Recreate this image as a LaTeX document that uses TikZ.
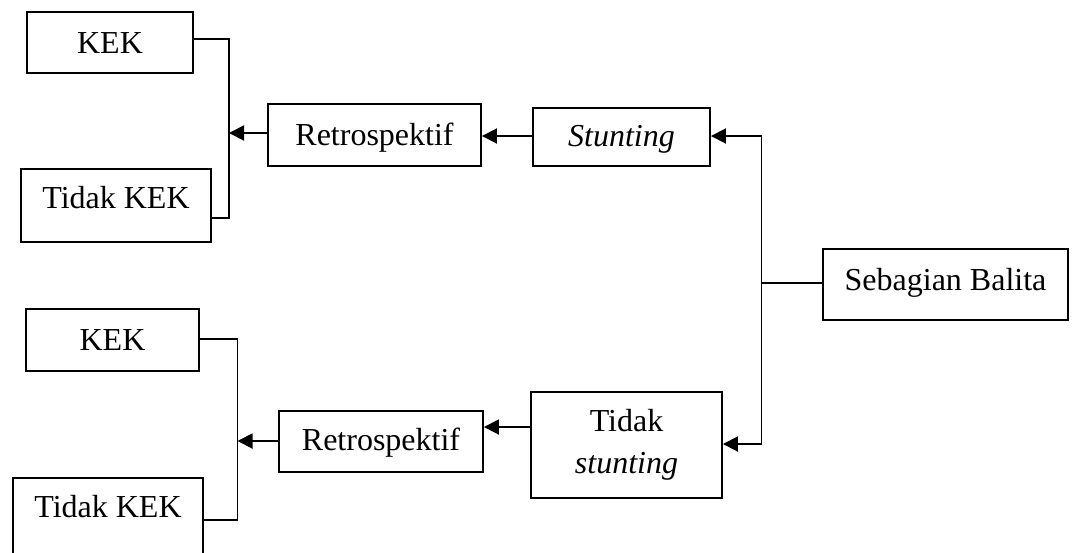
\documentclass[tikz,border=0pt]{standalone}
\usepackage{fontspec}
\setmainfont{Liberation Serif}
\usetikzlibrary{arrows.meta}
\begin{document}
\begin{tikzpicture}[x=1pt,y=-1pt,
  box/.style={draw, line width=1.9pt, inner sep=0pt, anchor=north,
    font=\fontsize{32}{42}\selectfont},
  link/.style={line width=1.9pt, line join=miter},
  arr/.style={link, -{Triangle[length=15pt,width=15pt]}}]
\useasboundingbox (0,0) rectangle (1073,552);
\clip (0,0) rectangle (1073,552);

% upper branch
\node[box, minimum width=166pt, text height=42pt, text depth=19pt] (kek1) at (110,11) {KEK};
\node[box, minimum width=190pt, text height=40pt, text depth=33pt] (tk1) at (116,168) {Tidak KEK};
\node[box, minimum width=213pt, text height=42pt, text depth=20pt] (retro1) at (374.5,103) {Retrospektif};
\node[box, minimum width=177pt, text height=39pt, text depth=19pt] (stunt) at (621.5,107) {\itshape Stunting};

% root
\node[box, minimum width=245pt, text height=42pt, text depth=29pt] (root) at (945.5,248) {Sebagian Balita};

% lower branch
\node[box, minimum width=173pt, text height=42pt, text depth=20pt] (kek2) at (112.5,308) {KEK};
\node[box, minimum width=190pt, text height=40pt, text depth=70pt] (tk2) at (108,477) {Tidak KEK};
\node[box, minimum width=204pt, text height=40pt, text depth=21pt] (retro2) at (381,410) {Retrospektif};
\node[box, minimum width=191pt, minimum height=106pt, align=center, anchor=center] (tstunt) at (626.5,445) {Tidak\\\itshape stunting};

% junction points
\coordinate (j1t) at (229,39);
\coordinate (j1m) at (229,133);
\coordinate (j1b) at (229,218);
\coordinate (j2t) at (237.5,339);
\coordinate (j2m) at (237.5,441);
\coordinate (j2b) at (237.5,520);
\coordinate (sp_t) at (761.5,136);
\coordinate (sp_m) at (761.5,283);
\coordinate (sp_b) at (761.5,444);

% bracket joining the two KEK outcomes of each branch
\draw[link] (kek1.east |- j1t) -- (j1t) -- (j1b) -- (tk1.east |- j1b);
\draw[link] (kek2.east |- j2t) -- (j2t) -- (j2b) -- (tk2.east |- j2b);

% arrows
\draw[arr] (retro1.west |- j1m) -- (j1m);
\draw[arr] (retro2.west |- j2m) -- (j2m);
\draw[arr] (stunt.west |- 0,136) -- (retro1.east |- 0,136);
\draw[arr] (tstunt.west |- 0,427) -- (retro2.east |- 0,427);

% spine from the root
\draw[link] (root.west |- sp_m) -- (sp_m);
\draw[link] (sp_t) -- (sp_b);
\draw[arr] (sp_t) -- (stunt.east |- sp_t);
\draw[arr] (sp_b) -- (tstunt.east |- sp_b);
\end{tikzpicture}
\end{document}
